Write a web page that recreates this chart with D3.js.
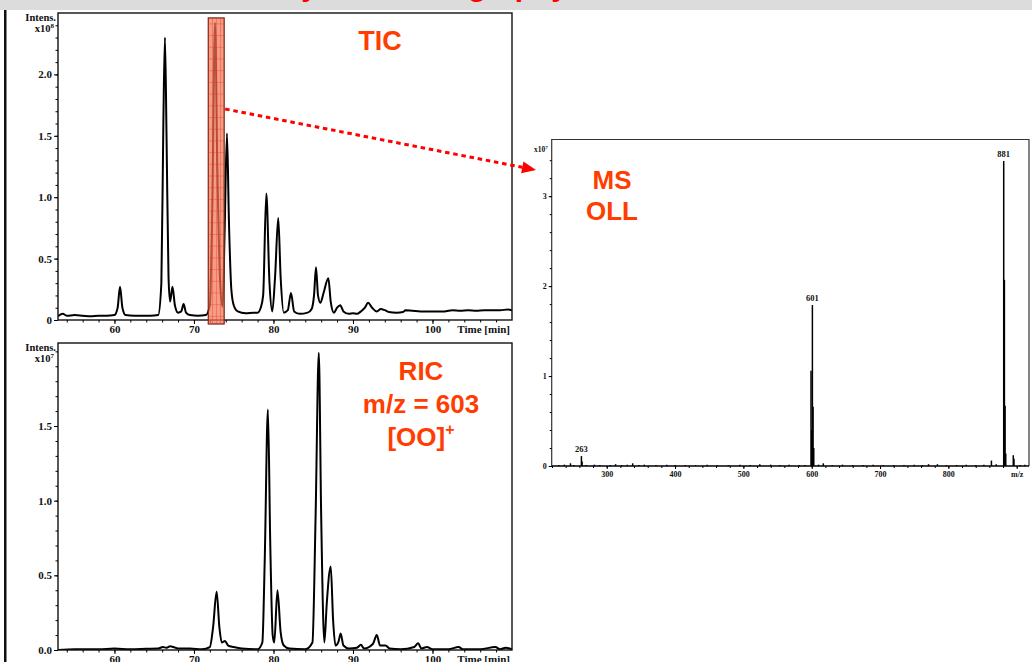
<!DOCTYPE html>
<html>
<head>
<meta charset="utf-8">
<script src="https://cdn.jsdelivr.net/npm/d3@7"></script>
<style>
    body { margin: 0; background: #fff; }
    svg { display: block; }
    .tick text { font-family: "Liberation Serif", "Times New Roman", serif; font-weight: bold; fill: #111; }
    .axlab { font-family: "Liberation Serif", "Times New Roman", serif; font-weight: bold; fill: #111; }
    .note { font-family: "Liberation Sans", Arial, sans-serif; font-weight: bold; fill: #ff3d00; }
</style>
</head>
<body>
<div id="chart"></div>
<script>
/*
----------------------------------------------------
    Data
----------------------------------------------------
*/
// TIC chromatogram, time [min] / intensity x10^8
const ticTime = [52.9, 53.5, 54.0, 55.0, 56.0, 57.0, 58.0, 59.0, 60.0, 60.4, 60.7, 61.0, 61.4, 62.5, 63.5, 64.5, 65.5,
    65.9, 66.15, 66.35, 66.55, 66.8, 67.0, 67.3, 67.6, 68.0, 68.4, 68.7, 69.0, 69.5, 70.5, 71.5,
    72.0, 72.3, 72.65, 72.95, 73.3, 73.6, 73.85, 74.15, 74.4, 74.7, 75.0, 75.5, 76.5, 77.5, 78.0, 78.4, 78.7,
    79.1, 79.5, 79.85, 80.2, 80.6, 80.9, 81.3, 81.8, 82.2, 82.6, 83.3, 84.3, 84.8, 85.1, 85.35, 85.6, 85.9,
    86.3, 86.9, 87.2, 87.6, 88.0, 88.4, 88.8, 89.5, 90.0, 90.5, 91.0, 91.5, 91.9, 92.4, 93.0, 93.5, 94.0, 94.5,
    95.5, 96.3, 96.6, 97.5, 98.5, 99.5, 100.5, 101.5, 102.5, 103.5, 104.5, 105.5, 106.5, 107.5, 108.5, 109.5, 110];
const ticIntens = [0.03, 0.05, 0.035, 0.04, 0.035, 0.03, 0.035, 0.035, 0.04, 0.1, 0.27, 0.1, 0.04, 0.035, 0.035, 0.035, 0.04,
    0.3, 1.6, 2.30, 1.5, 0.35, 0.15, 0.27, 0.12, 0.06, 0.07, 0.13, 0.06, 0.04, 0.035, 0.04,
    0.12, 0.9, 2.42, 1.2, 0.3, 0.11, 0.7, 1.52, 0.8, 0.25, 0.12, 0.07, 0.055, 0.06, 0.06, 0.1, 0.2,
    1.03, 0.3, 0.07, 0.35, 0.83, 0.35, 0.06, 0.08, 0.22, 0.07, 0.05, 0.06, 0.09, 0.2, 0.43, 0.2, 0.14,
    0.22, 0.34, 0.15, 0.06, 0.1, 0.12, 0.07, 0.05, 0.055, 0.05, 0.07, 0.1, 0.14, 0.1, 0.07, 0.09, 0.08, 0.065,
    0.06, 0.065, 0.08, 0.075, 0.07, 0.07, 0.07, 0.07, 0.08, 0.075, 0.08, 0.075, 0.08, 0.08, 0.08, 0.085, 0.08];

// RIC m/z 603, time [min] / intensity x10^7
const ricTime = [52.9, 55, 58, 60, 62, 64, 65.5, 66.1, 66.5, 67.0, 67.4, 68, 69.5, 71, 72.0, 72.4, 72.85, 73.2, 73.5,
    73.9, 74.3, 75.0, 76.0, 78.0, 78.6, 78.9, 79.3, 79.6, 79.9, 80.1, 80.5, 80.9, 81.3, 82, 84, 84.9, 85.3, 85.7,
    86.0, 86.4, 86.7, 87.2, 87.5, 87.8, 88.2, 88.45, 88.8, 89.5, 90.5, 91.0, 91.4, 92.5, 93.0, 93.4, 94.1, 94.6,
    96, 97.7, 98.2, 98.6, 99.3, 100, 102, 103.3, 103.8, 106, 107.9, 108.5, 109.2, 110];
const ricIntens = [0.0, 0.005, 0.005, 0.01, 0.005, 0.008, 0.01, 0.02, 0.015, 0.025, 0.02, 0.01, 0.01, 0.005, 0.02, 0.15, 0.39, 0.15, 0.05,
    0.06, 0.03, 0.02, 0.01, 0.005, 0.05, 0.6, 1.61, 0.7, 0.1, 0.05, 0.40, 0.12, 0.03, 0.01, 0.005, 0.05, 0.9, 1.99,
    0.9, 0.05, 0.31, 0.56, 0.2, 0.03, 0.06, 0.11, 0.03, 0.01, 0.015, 0.035, 0.01, 0.04, 0.10, 0.03, 0.03, 0.01,
    0.005, 0.02, 0.045, 0.01, 0.02, 0.005, 0.005, 0.02, 0.005, 0.005, 0.02, 0.005, 0.015, 0.005];

// Mass spectrum of the selected window, m/z / intensity x10^7
const msMz = [230, 238, 247, 252, 263, 264, 270, 282, 290, 305, 313, 322, 330, 338, 347, 355, 372, 388, 400, 415,
    430, 447, 462, 478, 495, 510, 524, 540, 553, 567, 582, 590, 599, 600, 601, 602, 603, 610, 617, 630, 645, 660,
    675, 690, 705, 720, 735, 750, 762, 771, 784, 797, 812, 826, 840, 852, 863, 870, 881, 882, 883, 884, 895, 896, 905, 912];
const msIntens = [0.01, 0.015, 0.03, 0.01, 0.11, 0.05, 0.01, 0.015, 0.01, 0.01, 0.02, 0.01, 0.015, 0.03, 0.01, 0.015, 0.01, 0.015, 0.01, 0.01,
    0.01, 0.015, 0.01, 0.01, 0.015, 0.01, 0.02, 0.015, 0.01, 0.015, 0.01, 0.01, 1.06, 0.40, 1.79, 0.66, 0.2, 0.015, 0.03, 0.01, 0.015, 0.01,
    0.01, 0.015, 0.01, 0.01, 0.01, 0.015, 0.01, 0.02, 0.02, 0.01, 0.01, 0.015, 0.01, 0.015, 0.06, 0.02, 3.39, 2.07, 0.67, 0.14, 0.12, 0.08, 0.01, 0.015];
const msPeakLabels = [263, 601, 881];

// tick values
const timeTicks = [60, 70, 80, 90, 100];
const timeMinor = d3.range(54, 110, 2);
const ticYTicks = [0, 0.5, 1.0, 1.5, 2.0];
const ricYTicks = [0, 0.5, 1.0, 1.5];
const yMinor = d3.range(0, 2.5, 0.1);
const mzTicks = [300, 400, 500, 600, 700, 800, 900];
const mzMinor = d3.range(220, 920, 20);
const msYTicks = [0, 1, 2, 3];
const msYMinor = d3.range(0, 3.6, 0.2);

// selected time window (highlight on TIC)
const selWindow = [71.8, 73.8];

/*
----------------------------------------------------
    Drawing
----------------------------------------------------
*/
const W = 1032, H = 662;
const svg = d3.select("#chart").append("svg")
    .attr("width", W)
    .attr("height", H);

// grey banner at top with a cut off red title
svg.append("rect").attr("x", 0).attr("y", 0).attr("width", W).attr("height", 10).attr("fill", "#dcdcdc");
svg.append("text")
    .attr("x", 568).attr("y", -4)
    .attr("text-anchor", "end")
    .style("font-family", "'Liberation Sans', Arial, sans-serif")
    .style("font-weight", "bold")
    .style("font-size", "30px")
    .attr("fill", "#ff0000")
    .text("Identification by Chromatography");

// black bar at left
svg.append("rect").attr("x", 4).attr("y", 10).attr("width", 2.5).attr("height", H - 10).attr("fill", "#111");

const defs = svg.append("defs");

function timePanel(opts) {
    var x = d3.scaleLinear().domain([52.9, 110]).range([opts.left, opts.right]);
    var y = d3.scaleLinear().domain([0, opts.yMax]).range([opts.bottom, opts.top]);
    var g = svg.append("g");

    defs.append("clipPath").attr("id", opts.id + "-clip")
        .append("rect")
        .attr("x", opts.left).attr("y", opts.top)
        .attr("width", opts.right - opts.left).attr("height", opts.bottom - opts.top);

    // curve
    var pts = opts.time.map((t, i) => [t, opts.intens[i]]);
    g.append("path")
        .datum(pts)
        .attr("clip-path", "url(#" + opts.id + "-clip)")
        .attr("fill", "none")
        .attr("stroke", "#000")
        .attr("stroke-width", 2)
        .attr("stroke-linejoin", "round")
        .attr("d", d3.line().x(d => x(d[0])).y(d => y(d[1])).curve(d3.curveMonotoneX));

    // frame
    g.append("rect")
        .attr("x", opts.left).attr("y", opts.top)
        .attr("width", opts.right - opts.left).attr("height", opts.bottom - opts.top)
        .attr("fill", "none").attr("stroke", "#111").attr("stroke-width", 1.4);

    // y axis
    g.append("g")
        .attr("transform", "translate(" + opts.left + ",0)")
        .call(d3.axisLeft(y).tickValues(yMinor.filter(v => v <= opts.yMax)).tickSize(2.5).tickFormat(""))
        .call(a => a.select(".domain").remove());
    g.append("g")
        .attr("transform", "translate(" + opts.left + ",0)")
        .call(d3.axisLeft(y).tickValues(opts.yTicks).tickSize(4).tickPadding(2)
            .tickFormat(opts.yFormat))
        .call(a => a.select(".domain").remove())
        .call(a => a.selectAll("text").style("font-size", "11px"));

    // x axis
    g.append("g")
        .attr("transform", "translate(0," + opts.bottom + ")")
        .call(d3.axisBottom(x).tickValues(timeMinor).tickSize(2.5).tickFormat(""))
        .call(a => a.select(".domain").remove());
    g.append("g")
        .attr("transform", "translate(0," + opts.bottom + ")")
        .call(d3.axisBottom(x).tickValues(timeTicks).tickSize(4).tickPadding(1).tickFormat(d3.format("d")))
        .call(a => a.select(".domain").remove())
        .call(a => a.selectAll("text").style("font-size", "11px"));

    g.append("text")
        .attr("class", "axlab")
        .attr("x", opts.right - 2).attr("y", opts.bottom + 13)
        .attr("text-anchor", "end")
        .style("font-size", "11px")
        .text("Time [min]");

    // Intens. label
    g.append("text")
        .attr("class", "axlab")
        .attr("x", opts.left - 2).attr("y", opts.top + 8)
        .attr("text-anchor", "end")
        .style("font-size", "10.5px")
        .text("Intens.");
    var ex = g.append("text")
        .attr("class", "axlab")
        .attr("x", opts.left - 4).attr("y", opts.top + 19)
        .attr("text-anchor", "end")
        .style("font-size", "10.5px");
    ex.append("tspan").text("x10");
    ex.append("tspan").attr("dy", -4).style("font-size", "7px").text(opts.exp);

    return { x: x, y: y, g: g };
}

var tic = timePanel({
    id: "tic", left: 58, right: 512, top: 13, bottom: 320, yMax: 2.5,
    time: ticTime, intens: ticIntens, yTicks: ticYTicks,
    yFormat: d => d === 0 ? "0" : d3.format(".1f")(d), exp: "8"
});

var ric = timePanel({
    id: "ric", left: 58, right: 512, top: 343, bottom: 650, yMax: 2.056,
    time: ricTime, intens: ricIntens, yTicks: ricYTicks,
    yFormat: d3.format(".1f"), exp: "7"
});

// highlight box on the TIC
var hatch = defs.append("pattern")
    .attr("id", "hatch")
    .attr("patternUnits", "userSpaceOnUse")
    .attr("width", 4).attr("height", 11.7);
hatch.append("path")
    .attr("d", "M0,0H4M0,0V11.7")
    .attr("stroke", "#e02a14").attr("stroke-width", 0.8).attr("opacity", 0.8);

var bx0 = tic.x(selWindow[0]), bx1 = tic.x(selWindow[1]);
var by0 = tic.y(2.46), by1 = tic.y(0) + 4;
tic.g.append("rect")
    .attr("x", bx0).attr("y", by0).attr("width", bx1 - bx0).attr("height", by1 - by0)
    .attr("fill", "#f47456").attr("fill-opacity", 0.72)
    .attr("stroke", "#7a2414").attr("stroke-width", 1.2);
tic.g.append("rect")
    .attr("x", bx0).attr("y", by0).attr("width", bx1 - bx0).attr("height", by1 - by0)
    .attr("fill", "url(#hatch)");

tic.g.append("text").attr("class", "note")
    .attr("x", 380).attr("y", 50)
    .attr("text-anchor", "middle")
    .style("font-size", "27px")
    .text("TIC");

// RIC annotation
var ricNote = ["RIC", "m/z = 603"];
ricNote.forEach((s, i) => {
    ric.g.append("text").attr("class", "note")
        .attr("x", 421).attr("y", 380 + i * 33)
        .attr("text-anchor", "middle")
        .style("font-size", "26px")
        .text(s);
});
var oo = ric.g.append("text").attr("class", "note")
    .attr("x", 421).attr("y", 446)
    .attr("text-anchor", "middle")
    .style("font-size", "26px");
oo.append("tspan").text("[OO]");
oo.append("tspan").attr("dy", -11).style("font-size", "16px").text("+");

/*
----------------------------------------------------
    Mass spectrum panel
----------------------------------------------------
*/
var ms = { left: 551.7, right: 1029, top: 139.5, bottom: 466 };
var mx = d3.scaleLinear().domain([219.5, 918]).range([ms.left, ms.right]);
var my = d3.scaleLinear().domain([0, 3.63]).range([ms.bottom, ms.top]);
var msG = svg.append("g");

msG.append("path")
    .attr("d", "M" + ms.left + "," + ms.bottom + "V" + ms.top + "H" + ms.right + "V" + ms.bottom)
    .attr("fill", "none").attr("stroke", "#333").attr("stroke-width", 1.2);

// baseline
msG.append("line")
    .attr("x1", ms.left).attr("x2", ms.right)
    .attr("y1", my(0)).attr("y2", my(0))
    .attr("stroke", "#000").attr("stroke-width", 1.6);

// sticks
msG.selectAll("line.stick")
    .data(msMz.map((m, i) => [m, msIntens[i]]))
    .enter()
    .append("line")
    .attr("class", "stick")
    .attr("x1", d => mx(d[0])).attr("x2", d => mx(d[0]))
    .attr("y1", my(0)).attr("y2", d => my(d[1]))
    .attr("stroke", "#000")
    .attr("stroke-width", 1.5);

msG.selectAll("text.plab")
    .data(msPeakLabels)
    .enter()
    .append("text")
    .attr("class", "axlab plab")
    .attr("x", d => mx(d))
    .attr("y", d => my(msIntens[msMz.indexOf(d)]) - 4)
    .attr("text-anchor", "middle")
    .style("font-size", "8.5px")
    .text(d => d);

msG.append("g")
    .attr("transform", "translate(" + ms.left + ",0)")
    .call(d3.axisLeft(my).tickValues(msYMinor).tickSize(2).tickFormat(""))
    .call(a => a.select(".domain").remove());
msG.append("g")
    .attr("transform", "translate(" + ms.left + ",0)")
    .call(d3.axisLeft(my).tickValues(msYTicks).tickSize(3).tickPadding(2).tickFormat(d3.format("d")))
    .call(a => a.select(".domain").remove())
    .call(a => a.selectAll("text").style("font-size", "8px"));

msG.append("g")
    .attr("transform", "translate(0," + ms.bottom + ")")
    .call(d3.axisBottom(mx).tickValues(mzMinor).tickSize(2).tickFormat(""))
    .call(a => a.select(".domain").remove());
msG.append("g")
    .attr("transform", "translate(0," + ms.bottom + ")")
    .call(d3.axisBottom(mx).tickValues(mzTicks).tickSize(3).tickPadding(2)
        .tickFormat(d => d === 900 ? "m/z" : d))
    .call(a => a.select(".domain").remove())
    .call(a => a.selectAll("text").style("font-size", "8px"));

var msEx = msG.append("text")
    .attr("class", "axlab")
    .attr("x", ms.left - 4).attr("y", ms.top + 12)
    .attr("text-anchor", "end")
    .style("font-size", "7.5px");
msEx.append("tspan").text("x10");
msEx.append("tspan").attr("dy", -3).style("font-size", "5px").text("7");

["MS", "OLL"].forEach((s, i) => {
    msG.append("text").attr("class", "note")
        .attr("x", 612).attr("y", 189 + i * 31)
        .attr("text-anchor", "middle")
        .style("font-size", "26px")
        .text(s);
});

/*
----------------------------------------------------
    Dotted arrow from the window to the spectrum
----------------------------------------------------
*/
var a0 = [bx1 + 1, 109], tip = [536, 170];
var dx = tip[0] - a0[0], dy = tip[1] - a0[1], len = Math.sqrt(dx * dx + dy * dy);
var ux = dx / len, uy = dy / len;
var headLen = 14, headW = 6;
var base = [tip[0] - ux * headLen, tip[1] - uy * headLen];

svg.append("line")
    .attr("x1", a0[0]).attr("y1", a0[1])
    .attr("x2", base[0]).attr("y2", base[1])
    .attr("stroke", "#ff0000")
    .attr("stroke-width", 3)
    .attr("stroke-dasharray", "4.5,3.8");
svg.append("path")
    .attr("d", "M" + tip[0] + "," + tip[1] +
        "L" + (base[0] - uy * headW) + "," + (base[1] + ux * headW) +
        "L" + (base[0] + uy * headW) + "," + (base[1] - ux * headW) + "Z")
    .attr("fill", "#ff0000");
</script>
</body>
</html>
